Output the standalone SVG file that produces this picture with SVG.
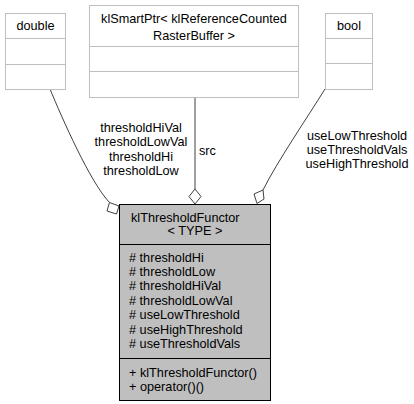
<svg xmlns="http://www.w3.org/2000/svg" width="414" height="404" viewBox="0 0 414 404">
<style>
text{font-family:"Liberation Sans",Arial,sans-serif;font-size:12.7px;fill:#000}
.ext{fill:#fff;stroke:#bfbfbf;stroke-width:1}
.main{fill:#bfbfbf;stroke:#000;stroke-width:1}
.div{stroke:#000;stroke-width:1}
.exdiv{stroke:#bfbfbf;stroke-width:1}
.c{text-anchor:middle}
.edge{fill:none;stroke:#404040;stroke-width:1}
.dia{fill:#fff;stroke:#404040;stroke-width:1}
</style>
<rect width="414" height="404" fill="#fff"/>
<g id="connectors">
<path class="edge" d="M50,89 C62,118 90,182 109.5,202.5"/>
<polygon class="dia" points="109.5,202.5 119,206 116.5,214 107,211"/>
<text class="c" x="141" y="131.5">thresholdHiVal</text>
<text class="c" x="141" y="146">thresholdLowVal</text>
<text class="c" x="141" y="160.5">thresholdHi</text>
<text class="c" x="141" y="175">thresholdLow</text>
<path class="edge" d="M195,97 L195,189"/>
<polygon class="dia" points="195,189 201,196.5 195,204 189,196.5"/>
<text x="199" y="154.5">src</text>
<path class="edge" d="M325,89 C307,118 277,162 263,190"/>
<polygon class="dia" points="263,190 264,199 257,203.5 254,194"/>
<text class="c" x="357" y="139.5">useLowThreshold</text>
<text class="c" x="357" y="153.5">useThresholdVals</text>
<text class="c" x="357" y="167.5">useHighThreshold</text>
</g>
<g id="double">
<rect class="ext" x="5.5" y="13.5" width="60" height="76"/>
<line class="exdiv" x1="5.5" y1="38.5" x2="65.5" y2="38.5"/>
<line class="exdiv" x1="5.5" y1="64.5" x2="65.5" y2="64.5"/>
<text class="c" x="35.5" y="29.5">double</text>
</g>
<g id="klSmartPtr">
<rect class="ext" x="89.5" y="5.5" width="209" height="92"/>
<line class="exdiv" x1="89.5" y1="46.5" x2="298.5" y2="46.5"/>
<line class="exdiv" x1="89.5" y1="71.5" x2="298.5" y2="71.5"/>
<text class="c" x="194" y="22.5">klSmartPtr&lt; klReferenceCounted</text>
<text class="c" x="194" y="39.5">RasterBuffer &gt;</text>
</g>
<g id="bool">
<rect class="ext" x="325.5" y="13.5" width="47" height="76"/>
<line class="exdiv" x1="325.5" y1="38.5" x2="372.5" y2="38.5"/>
<line class="exdiv" x1="325.5" y1="63.5" x2="372.5" y2="63.5"/>
<text class="c" x="349" y="29.5">bool</text>
</g>
<g id="klThresholdFunctor">
<rect class="main" x="119.5" y="204.5" width="151" height="196"/>
<line class="div" x1="119.5" y1="244.5" x2="270.5" y2="244.5"/>
<line class="div" x1="119.5" y1="358.5" x2="270.5" y2="358.5"/>
<text x="131" y="221.5">klThresholdFunctor</text>
<text class="c" x="195" y="234.5">&lt; TYPE &gt;</text>
<text x="129" y="261.5"># thresholdHi</text>
<text x="129" y="275.9"># thresholdLow</text>
<text x="129" y="290.3"># thresholdHiVal</text>
<text x="129" y="304.7"># thresholdLowVal</text>
<text x="129" y="319.1"># useLowThreshold</text>
<text x="129" y="333.5"># useHighThreshold</text>
<text x="129" y="347.9"># useThresholdVals</text>
<text x="129" y="376.5">+ klThresholdFunctor()</text>
<text x="129" y="390.9">+ operator()()</text>
</g>
</svg>
